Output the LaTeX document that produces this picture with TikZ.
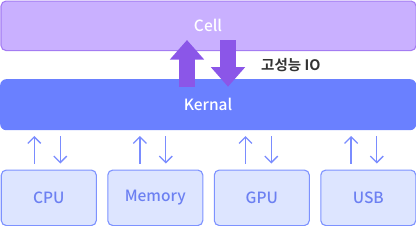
\documentclass[tikz,border=0pt]{standalone}
\usepackage{fontspec}
\newfontfamily\kr{Noto Sans CJK KR}[UprightFont={* Medium},BoldFont={* Bold}]
\usetikzlibrary{arrows.meta}
\definecolor{cellfill}{HTML}{C9B0FF}
\definecolor{celldraw}{HTML}{A47CF2}
\definecolor{bigarrow}{HTML}{8B56E8}
\definecolor{kernfill}{HTML}{6A80FF}
\definecolor{devfill}{HTML}{DDE5FF}
\definecolor{devdraw}{HTML}{7D92FF}
\definecolor{devtext}{HTML}{6C80F2}
\definecolor{smallarrow}{HTML}{7A8CFF}
\definecolor{labeltext}{HTML}{333333}
\tikzset{
  txt/.style={font=\kr\fontsize{15.5bp}{18bp}\selectfont},
  devbox/.style={draw=devdraw, fill=devfill, line width=1.1bp, rounded corners=5bp,
    minimum width=95bp, minimum height=55.5bp, inner sep=0pt, text=devtext, txt},
  bigarr/.style={draw=bigarrow, line width=16bp, -{Triangle[length=19.5bp,width=33bp]}},
  smallarr/.style={draw=smallarrow, line width=1.3bp, -{Straight Barb[length=6.5bp,width=13bp,line width=1.3bp]}}
}
\begin{document}
\begin{tikzpicture}[x=1bp,y=-1bp]
\useasboundingbox (0,0) rectangle (416,226);
% Cell
\node[draw=celldraw, fill=cellfill, line width=1.1bp, rounded corners=5bp,
  minimum width=415bp, minimum height=49.5bp, inner sep=0pt, anchor=north west] (cell) at (0.5,0.5) {};
\node[txt, text=white] (celltxt) at (208,25.5) {Cell};
% Kernal
\node[fill=kernfill, rounded corners=6bp, minimum width=416bp, minimum height=51bp,
  inner sep=0pt, anchor=north west] (kernal) at (0,79) {};
\node[txt, text=white] (kerntxt) at (208,104) {Kernal};
% big arrows
\coordinate (upS) at (187,86.7);
\coordinate (upE) at (187,40);
\coordinate (dnS) at (228,40);
\coordinate (dnE) at (228,86.7);
\draw[bigarr] (upS) -- (upE);
\draw[bigarr] (dnS) -- (dnE);
\node[txt, text=labeltext, anchor=west, inner sep=0pt] (io) at (261,65.5) {\bfseries\fontsize{14.5bp}{17bp}\selectfont 고성능 IO};
% devices
\foreach \n/\t [count=\i from 0] in {cpu/CPU, mem/Memory, gpu/GPU, usb/USB}{
  \node[devbox, anchor=north west] (\n) at (0.75+106.5*\i, 169.5) {\t};
  \coordinate (\n u1) at (34.3+105.6*\i, 163.5);
  \coordinate (\n u2) at (34.3+105.6*\i, 136);
  \coordinate (\n d1) at (60.3+105.5*\i, 136);
  \coordinate (\n d2) at (60.3+105.5*\i, 163.5);
  \draw[smallarr] (\n u1) -- (\n u2);
  \draw[smallarr] (\n d1) -- (\n d2);
}
\end{tikzpicture}
\end{document}
